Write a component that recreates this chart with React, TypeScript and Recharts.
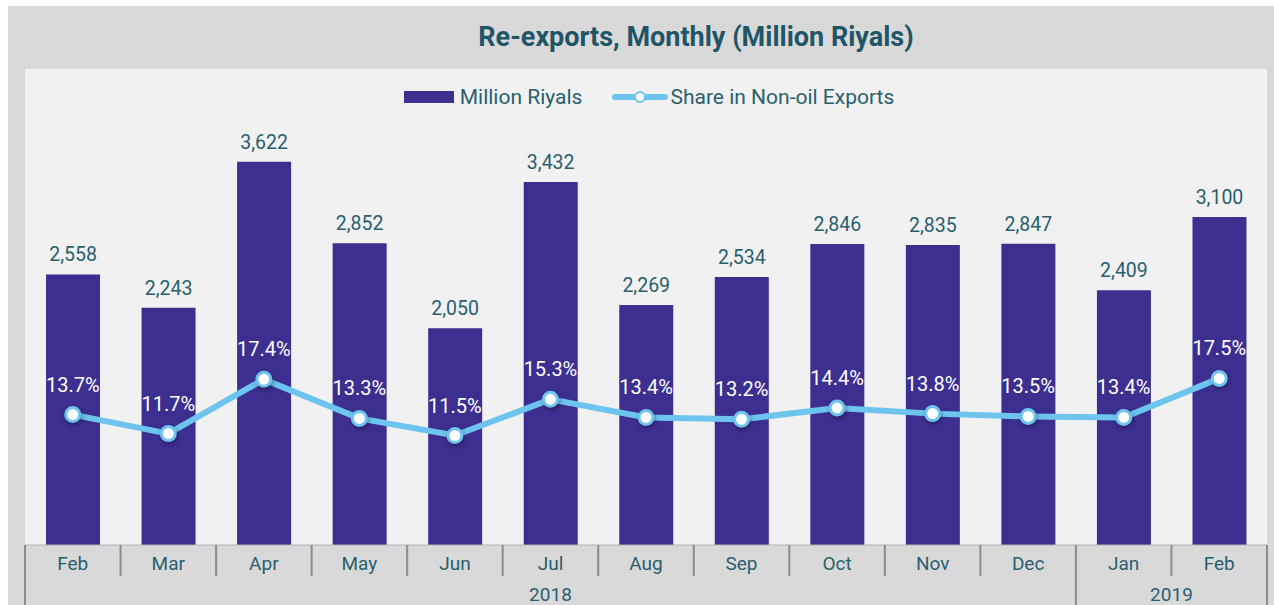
import React from "react";
import { ComposedChart, Bar, Line, XAxis, YAxis, CartesianGrid, Legend, LabelList } from "recharts";

// Re-exports by month, Feb 2018 - Feb 2019
const months = ["Feb", "Mar", "Apr", "May", "Jun", "Jul", "Aug", "Sep", "Oct", "Nov", "Dec", "Jan", "Feb"];
const years = ["2018", "2018", "2018", "2018", "2018", "2018", "2018", "2018", "2018", "2018", "2018", "2019", "2019"];
const millionRiyals = [2558, 2243, 3622, 2852, 2050, 3432, 2269, 2534, 2846, 2835, 2847, 2409, 3100];
const shareNonOil = [13.7, 11.7, 17.4, 13.3, 11.5, 15.3, 13.4, 13.2, 14.4, 13.8, 13.5, 13.4, 17.5];

const data = months.map((m, i) => ({
  key: `${m}-${years[i]}`,
  month: m,
  year: years[i],
  value: millionRiyals[i],
  share: shareNonOil[i],
}));

const FONT = "Roboto, 'Noto Sans', sans-serif";
const TEXT = "#2a5f6e";
const BAR = "#3c2f90";
const LINE = "#6cc4ef";

const W = 1266;
const H = 599;
const AXIS_H = 60;
const margin = { top: 63, right: 7, bottom: 0, left: 17 };
const plotW = W - margin.left - margin.right;
const band = plotW / months.length;
const baseY = H - AXIS_H;

function MonthTick(props: any) {
  const { x, index } = props;
  const left = x - band / 2;
  const right = x + band / 2;
  const startsYear = index === 0 || years[index] !== years[index - 1];
  const last = index === months.length - 1;
  let groupLen = 0;
  if (startsYear) {
    while (index + groupLen < years.length && years[index + groupLen] === years[index]) groupLen++;
  }
  return (
    <g>
      <line x1={left} x2={left} y1={baseY} y2={startsYear ? H : baseY + 31} stroke="#8c8c8c" strokeWidth={2} />
      {last && <line x1={right} x2={right} y1={baseY} y2={H} stroke="#8c8c8c" strokeWidth={2} />}
      <text x={x} y={baseY + 18} textAnchor="middle" dominantBaseline="central" fill={TEXT} fontSize={19} fontFamily={FONT}>
        {months[index]}
      </text>
      {startsYear && (
        <text x={left + (groupLen * band) / 2} y={baseY + 49} textAnchor="middle" dominantBaseline="central" fill={TEXT} fontSize={19} fontFamily={FONT}>
          {years[index]}
        </text>
      )}
    </g>
  );
}

function ShareDot(props: any) {
  const { cx, cy } = props;
  if (cx == null || cy == null) return null;
  return (
    <circle cx={cx} cy={cy} r={7} fill="#ffffff" stroke={LINE} strokeWidth={3}
      style={{ filter: "drop-shadow(1px 2px 2px rgba(0,0,0,0.35))" }} />
  );
}

const renderLegend = () => (
  <div style={{ display: "flex", justifyContent: "center", alignItems: "center", gap: 30, paddingLeft: 16, fontFamily: FONT, fontSize: 21, color: TEXT }}>
    <span style={{ display: "flex", alignItems: "center" }}>
      <span style={{ display: "inline-block", width: 50, height: 12, background: BAR, marginRight: 6 }} />
      Million Riyals
    </span>
    <span style={{ display: "flex", alignItems: "center" }}>
      <svg width={56} height={16} style={{ marginRight: 2 }}>
        <line x1={3} x2={53} y1={8} y2={8} stroke={LINE} strokeWidth={6} strokeLinecap="round" />
        <circle cx={28} cy={8} r={5} fill="#ffffff" stroke={LINE} strokeWidth={2} />
      </svg>
      Share in Non-oil Exports
    </span>
  </div>
);

export default function App() {
  return (
    <div style={{ position: "absolute", left: 8, top: 6, width: W, height: H, background: "#d9d9d9" }}>
      <div style={{ position: "absolute", top: 15, left: 0, width: W, paddingLeft: 110, boxSizing: "border-box", textAlign: "center", fontFamily: FONT, fontWeight: 700, fontSize: 27, color: "#1f5566", lineHeight: "32px" }}>
        Re-exports, Monthly (Million Riyals)
      </div>
      <ComposedChart width={W} height={H} data={data} margin={margin} barCategoryGap="22%">
        <CartesianGrid fill="#f1f1f1" horizontal={false} vertical={false} stroke="none" />
        <XAxis dataKey="key" height={AXIS_H} tickLine={false} axisLine={{ stroke: "#b3b3b3" }} tick={<MonthTick />} interval={0} />
        <YAxis yAxisId="left" domain={[0, 4500]} hide />
        <YAxis yAxisId="right" orientation="right" domain={[0, 50]} hide />
        <Legend layout="horizontal" verticalAlign="middle" align="center" content={renderLegend}
          wrapperStyle={{ top: 79, left: 0, width: W }} />
        <Bar yAxisId="left" dataKey="value" name="Million Riyals" fill={BAR} isAnimationActive={false}>
          <LabelList dataKey="value" position="top" offset={13} fill={TEXT} fontSize={19.5} fontFamily={FONT}
            formatter={(v: any) => Number(v).toLocaleString("en-US")} />
        </Bar>
        <Line yAxisId="right" dataKey="share" name="Share in Non-oil Exports" stroke={LINE} strokeWidth={6}
          dot={<ShareDot />} activeDot={false} isAnimationActive={false}>
          <LabelList dataKey="share" position="top" offset={23} fill="#ffffff" fontSize={20} fontFamily={FONT}
            formatter={(v: any) => `${Number(v).toFixed(1)}%`} />
        </Line>
      </ComposedChart>
    </div>
  );
}
